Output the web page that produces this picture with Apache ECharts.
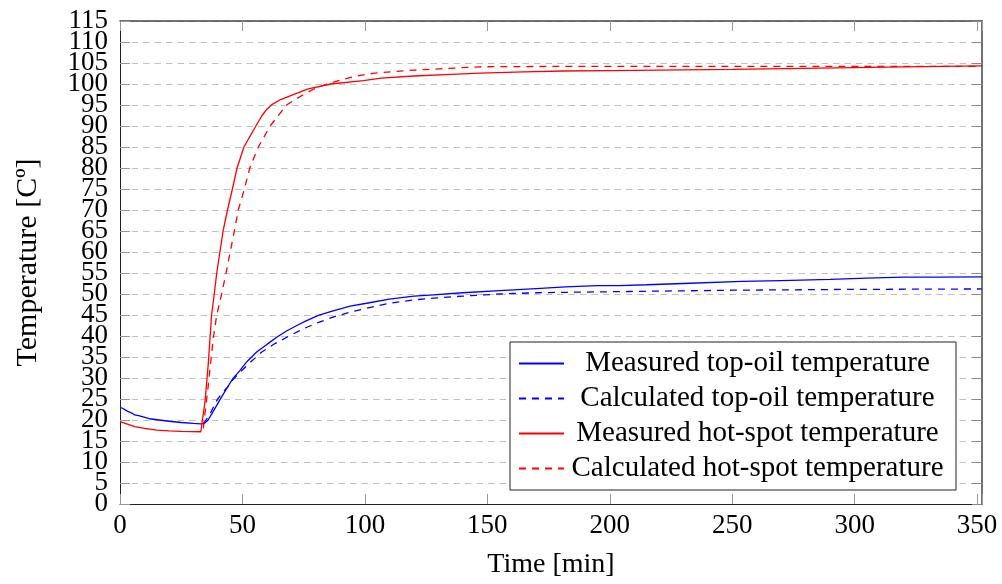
<!DOCTYPE html>
<html>
<head>
<meta charset="utf-8">
<script src="https://cdn.jsdelivr.net/npm/echarts@6/dist/echarts.min.js"></script>
<style>
html,body{margin:0;padding:0;background:#fff;}
#chart{width:1002px;height:584px;}
</style>
</head>
<body>
<div id="chart"></div>
<script>
// ---- Data (time in minutes, temperature in °C) ----
var seriesNames = [
  'Measured top-oil temperature',
  'Calculated top-oil temperature',
  'Measured hot-spot temperature',
  'Calculated hot-spot temperature'
];

var measTopOilT = [0, 1, 3, 5, 6, 8, 12, 16, 20, 25, 30, 33, 34.5, 36, 38, 39.5, 41.5, 43.6, 46, 49, 52, 55.8, 60, 64, 68, 72.2, 76, 81, 87, 94, 100.7, 110, 120, 128, 140, 155, 170, 182, 195, 204, 215, 230, 254, 270, 290, 305, 320, 335, 352];
var measTopOilV = [23, 22.8, 22.1, 21.6, 21.2, 21, 20.3, 20, 19.7, 19.4, 19.2, 19.1, 19.2, 20, 22, 23.5, 25.5, 27.5, 29.8, 31.8, 34, 36.2, 38, 39.7, 41.2, 42.5, 43.6, 44.9, 46, 47.1, 47.8, 48.8, 49.5, 49.8, 50.3, 50.8, 51.3, 51.7, 52, 52, 52.2, 52.5, 53, 53.2, 53.5, 53.8, 54, 54, 54.1];

var calcTopOilT = [34, 35.5, 36.8, 38.5, 40, 42, 44, 46, 48.3, 53, 57.9, 63.3, 69.4, 74.8, 80, 87, 94, 100.7, 110, 120, 128, 140, 155, 170, 182, 208, 250, 300, 352];
var calcTopOilV = [19.1, 20.3, 21.5, 23.5, 25.1, 26.6, 27.9, 29.5, 31, 33.6, 36.2, 38.2, 40.1, 41.7, 43, 44.5, 45.7, 46.6, 47.8, 48.6, 49, 49.5, 50, 50.3, 50.4, 50.6, 50.9, 51.1, 51.2];

var measHotSpotT = [0, 3, 6, 10, 15, 20, 25, 33, 34.7, 36, 37.4, 38.5, 39.5, 40.8, 42.1, 43.9, 45.9, 47.8, 50.6, 55.5, 58, 60, 62, 65.6, 70, 76.5, 86, 99.4, 106.6, 120, 135, 147, 165, 181, 200, 220, 250, 286, 320, 352];
var measHotSpotV = [19.6, 19, 18.4, 18, 17.6, 17.4, 17.3, 17.2, 24.3, 33, 45, 50, 55, 60, 65, 70, 75, 80, 85, 90, 92.5, 94, 95.1, 96.3, 97.3, 98.8, 100, 100.8, 101.4, 101.9, 102.3, 102.6, 102.9, 103.1, 103.2, 103.3, 103.5, 103.8, 104.1, 104.3];

var calcHotSpotT = [34, 36, 38, 39.5, 41.5, 43.3, 45, 46.7, 48.3, 50.8, 53, 56.5, 61.3, 68, 73.8, 79.2, 84.4, 95.6, 104, 120, 147, 181, 220, 300, 352];
var calcHotSpotV = [18, 28, 39, 45, 50, 55, 60, 65, 70, 75, 80, 85, 90, 95, 97.1, 98.8, 100, 101.8, 102.6, 103.3, 104.1, 104.2, 104.2, 104.2, 104.2];

var xMin = 0, xMax = 352, xStep = 50;
var yMin = 0, yMax = 115, yStep = 5;

function zip(t, v) { return t.map(function (x, i) { return [x, v[i]]; }); }

var FONT = 'Liberation Serif, Times New Roman, serif';
var chart = echarts.init(document.getElementById('chart'), null, {renderer: 'canvas'});

function lineSeries(name, data, color, dashed) {
  return {
    name: name, type: 'line', data: data,
    xAxisIndex: 0, yAxisIndex: 0,
    symbol: 'none', showSymbol: false,
    lineStyle: {color: color, width: 1.3, type: dashed ? [7, 6] : 'solid'},
    itemStyle: {color: color},
    emphasis: {disabled: true},
    animation: false
  };
}

// y tick labels are split over two coincident left axes (even / odd multiples of 5)
// so that ECharts' overlap logic keeps every label visible.
function yLabel(parity) {
  return {
    fontSize: 27, fontFamily: FONT, color: '#000', margin: 12,
    showMinLabel: true, showMaxLabel: true, hideOverlap: false,
    formatter: function (v) { return (Math.round(v / yStep) % 2 === parity) ? String(v) : ''; }
  };
}

var option = {
  animation: false,
  backgroundColor: '#fff',
  grid: {left: 120, right: 20, top: 21, bottom: 78, containLabel: false},
  legend: {
    orient: 'vertical',
    left: 510, top: 342,
    padding: [7, 10, 7, 8],
    itemWidth: 45, itemHeight: 14, itemGap: 6,
    backgroundColor: '#fff',
    borderColor: '#222', borderWidth: 1, borderRadius: 0,
    itemStyle: {opacity: 0, borderWidth: 0},
    data: seriesNames,
    formatter: function (n) { return '{a|' + n + '}'; },
    textStyle: {
      rich: {a: {width: 377, align: 'center', fontSize: 29, lineHeight: 29, fontFamily: FONT, color: '#000'}}
    }
  },
  xAxis: [{
    type: 'value', min: xMin, max: xMax, interval: xStep, position: 'bottom',
    name: 'Time [min]', nameLocation: 'middle', nameGap: 47,
    nameTextStyle: {fontSize: 28, fontFamily: FONT, color: '#000'},
    axisLine: {show: true, onZero: false, lineStyle: {color: '#222', width: 1}},
    axisTick: {show: true, inside: true, length: 10, lineStyle: {color: '#999'}},
    axisLabel: {fontSize: 27, fontFamily: FONT, color: '#000', margin: 8,
      formatter: function (v) { return v % xStep === 0 ? String(v) : ''; }},
    splitLine: {show: false}
  }, {
    type: 'value', min: xMin, max: xMax, interval: xStep, position: 'top',
    axisLine: {show: true, onZero: false, lineStyle: {color: '#444', width: 1.5}},
    axisTick: {show: true, inside: true, length: 10, lineStyle: {color: '#999'}},
    axisLabel: {show: false}, splitLine: {show: false}
  }],
  yAxis: [{
    type: 'value', min: yMin, max: yMax, interval: yStep, position: 'left',
    name: 'Temperature [Cº]', nameLocation: 'middle', nameGap: 77, nameRotate: 90,
    nameTextStyle: {fontSize: 30, fontFamily: FONT, color: '#000'},
    axisLine: {show: true, onZero: false, lineStyle: {color: '#222', width: 1}},
    axisTick: {show: true, inside: true, length: 10, lineStyle: {color: '#999'}},
    axisLabel: yLabel(0),
    splitLine: {show: true, lineStyle: {color: '#c0c0c0', width: 1, type: [6.5, 5]}}
  }, {
    type: 'value', min: yMin, max: yMax, interval: yStep, position: 'right',
    axisLine: {show: true, onZero: false, lineStyle: {color: '#444', width: 1.5}},
    axisTick: {show: true, inside: true, length: 10, lineStyle: {color: '#888'}},
    axisLabel: {show: false}, splitLine: {show: false}
  }, {
    type: 'value', min: yMin, max: yMax, interval: yStep, position: 'left', offset: 0,
    axisLine: {show: false}, axisTick: {show: false},
    axisLabel: yLabel(1), splitLine: {show: false}
  }],
  series: [
    lineSeries(seriesNames[0], zip(measTopOilT, measTopOilV), '#0000ff', false),
    lineSeries(seriesNames[1], zip(calcTopOilT, calcTopOilV), '#0000ff', true),
    lineSeries(seriesNames[2], zip(measHotSpotT, measHotSpotV), '#ff0000', false),
    lineSeries(seriesNames[3], zip(calcHotSpotT, calcHotSpotV), '#ff0000', true)
  ]
};
chart.setOption(option);
</script>
</body>
</html>
